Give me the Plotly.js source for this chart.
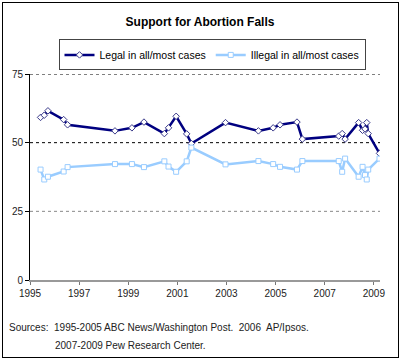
<!DOCTYPE html>
<html><head><meta charset="utf-8">
<script src="https://cdn.plot.ly/plotly-3.0.1.min.js"></script>
<style>
body{margin:0;padding:0;background:#fff;}
#wrap{position:relative;width:400px;height:360px;}
#chart{position:absolute;left:0;top:0;width:400px;height:360px;}
#frame{position:absolute;left:2px;top:2px;width:395px;height:354px;border:1px solid #000;pointer-events:none;}
</style></head>
<body>
<div id="wrap"><div id="chart"></div><div id="frame"></div></div>
<script>
const pollDates = [1995.43, 1995.58, 1995.73, 1996.37, 1996.53, 1998.46, 1999.15, 1999.64, 2000.47, 2000.64, 2000.95, 2001.38, 2001.57, 2002.96, 2004.30, 2004.90, 2005.18, 2005.87, 2006.09, 2007.57, 2007.71, 2007.83, 2008.38, 2008.54, 2008.64, 2008.71, 2008.77, 2009.23];
const legalAllMost = [59.2, 60, 61.6, 58.4, 56.5, 54.3, 55.4, 57.5, 53.3, 55.4, 59.6, 53.2, 49.7, 57.3, 54.3, 55.4, 56.5, 57.5, 51.3, 52.4, 53.3, 51.3, 57.3, 54.5, 55, 57.3, 53.3, 46.1];
const illegalAllMost = [40.2, 36.6, 37.6, 39.5, 41.1, 42.2, 42.2, 41.1, 43.2, 41.3, 39.4, 43.2, 48.2, 42.1, 43.3, 42.2, 41.2, 40.2, 43.3, 43.3, 39.4, 44.2, 37.6, 41.2, 38.2, 36.6, 40.2, 44.2];
const seriesNames = ["Legal in all/most cases", "Illegal in all/most cases"];
const xTickVals = [1995, 1997, 1999, 2001, 2003, 2005, 2007, 2009];
const yTickVals = [0, 25, 50, 75];
const titleText = "Support for Abortion Falls";
const sourceLine1 = "Sources:  1995-2005 ABC News/Washington Post.  2006  AP/Ipsos.";
const sourceLine2 = "2007-2009 Pew Research Center.";

const F = "Liberation Sans, Arial, sans-serif";
const traces = [
  {x: pollDates, y: legalAllMost, name: seriesNames[0], type: "scatter", mode: "lines+markers",
   line: {color: "#000080", width: 2.5},
   marker: {symbol: "diamond", size: 5, color: "#ffffff", line: {color: "#3a3a8a", width: 1}}},
  {x: pollDates, y: illegalAllMost, name: seriesNames[1], type: "scatter", mode: "lines+markers",
   line: {color: "#99ccff", width: 2.5},
   marker: {symbol: "square", size: 5, color: "#ffffff", line: {color: "#99ccff", width: 1}}}
];
const layout = {
  width: 400, height: 360,
  margin: {l: 30, r: 20, t: 74, b: 80},
  paper_bgcolor: "#fff", plot_bgcolor: "#fff",
  font: {family: F, size: 10, color: "#222"},
  title: {text: titleText, x: 0.5, xanchor: "center", y: 1 - 22/360, yanchor: "middle",
          font: {family: F, size: 12, color: "#000", weight: "bold"}},
  showlegend: true,
  legend: {orientation: "h", x: 0.52, xanchor: "center", y: 1.168, yanchor: "top",
           bordercolor: "#444", borderwidth: 1, bgcolor: "#fff",
           font: {family: F, size: 10.5, color: "#000"}, itemwidth: 30, tracegroupgap: 0},
  xaxis: {range: [1995, 2009.25], tickvals: xTickVals, ticktext: xTickVals.map(String),
          showgrid: false, zeroline: false, showline: true, linecolor: "#999", linewidth: 1.5,
          ticks: "outside", ticklen: 3, tickcolor: "#777", tickfont: {size: 10, color: "#222"}, fixedrange: true},
  yaxis: {range: [0, 75], tickvals: yTickVals, showgrid: false, zeroline: false,
          showline: true, linecolor: "#000", linewidth: 1, ticks: "outside", ticklen: 4, tickcolor: "#000",
          tickfont: {size: 10, color: "#222"}, fixedrange: true},
  shapes: [
    {type: "line", xref: "paper", x0: 0, x1: 1, yref: "y", y0: 75, y1: 75, line: {color: "#000", width: 1, dash: "3px,3px"}, layer: "below"},
    {type: "line", xref: "paper", x0: 0, x1: 1, yref: "y", y0: 50, y1: 50, line: {color: "#000", width: 1, dash: "3px,3px"}, layer: "below"},
    {type: "line", xref: "paper", x0: 0, x1: 1, yref: "y", y0: 25, y1: 25, line: {color: "#888", width: 1, dash: "3px,3px"}, layer: "below"}
  ],
  annotations: [
    {text: sourceLine1, xref: "paper", yref: "paper", x: -23/350, y: (280-328)/206.3, xanchor: "left", yanchor: "middle", showarrow: false, font: {family: F, size: 10, color: "#222"}},
    {text: sourceLine2, xref: "paper", yref: "paper", x: 23/350, y: (280-346)/206.3, xanchor: "left", yanchor: "middle", showarrow: false, font: {family: F, size: 10, color: "#222"}}
  ]
};
Plotly.newPlot("chart", traces, layout, {displayModeBar: false, staticPlot: true});
</script>
</body></html>
